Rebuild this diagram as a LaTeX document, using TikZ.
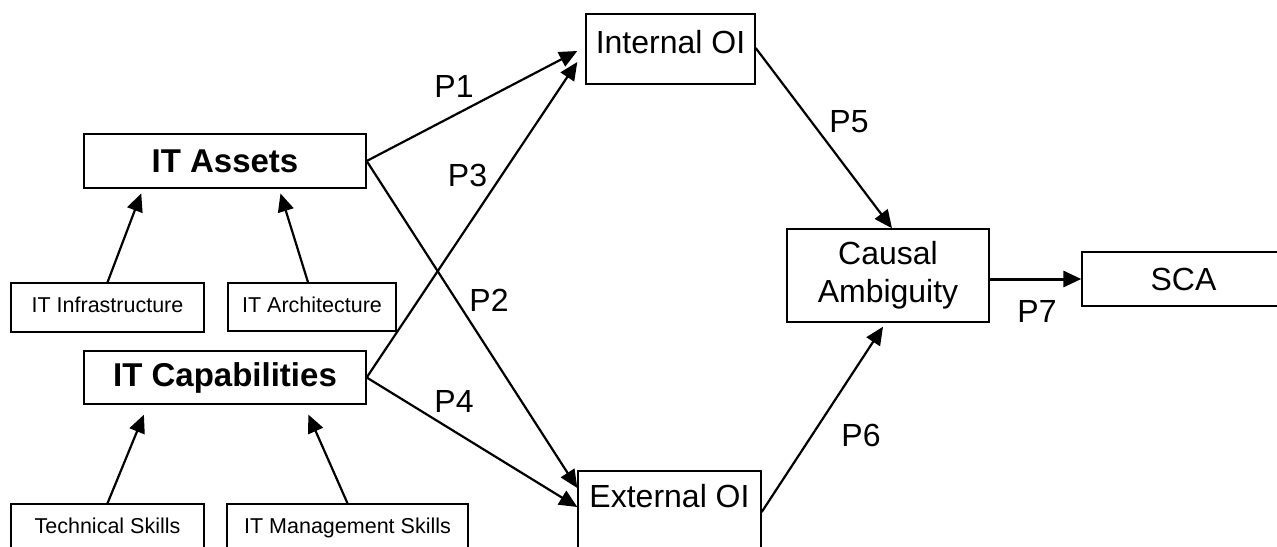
\documentclass[tikz,border=0pt]{standalone}
\usepackage{fontspec}
\setmainfont{Liberation Sans}
\usetikzlibrary{arrows.meta}

\tikzset{
  box/.style={draw, line width=0.7pt, inner sep=0pt, align=center,
    font=\fontsize{16}{19}\selectfont},
  bigbox/.style={box, font=\fontsize{16.5}{20}\selectfont\bfseries},
  smallbox/.style={box, text height=8pt, text depth=3pt,
    font=\fontsize{10.75}{13}\selectfont},
  link/.style={->, line width=1.1pt},
  plabel/.style={font=\fontsize{16}{19}\selectfont}
}

\begin{document}
\begin{tikzpicture}[x=0.5pt, y=-0.5pt, >={Triangle[length=9pt,width=8pt]}]
    \useasboundingbox (0,0) rectangle (1277,546);
    % left side
    \node[bigbox, minimum width=141pt, minimum height=27pt] (assets) at (225,161) {IT Assets};
    \node[smallbox, minimum width=96.5pt, minimum height=24.5pt] (infra) at (107.5,307.5) {IT Infrastructure};
    \node[smallbox, minimum width=84pt, minimum height=24pt] (arch) at (312,307) {IT Architecture};
    \node[bigbox, minimum width=141pt, minimum height=26.5pt] (caps) at (225,377.5) {IT Capabilities};
    \node[smallbox, minimum width=96.5pt, minimum height=24.5pt] (tech) at (107.5,528.5) {Technical Skills};
    \node[smallbox, minimum width=120.5pt, minimum height=24.5pt] (mgmt) at (347.5,528.5) {IT Management Skills};
    % right side
    \node[box, minimum width=84.5pt, text height=19.5pt, text depth=15.5pt] (intoi) at (670.5,49) {Internal OI};
    \node[box, minimum width=91.5pt, text height=18pt, text depth=29.5pt] (extoi) at (669.5,518.5) {External OI};
    \node[box, minimum width=101pt, minimum height=46.5pt] (causal) at (888,275.5) {Causal\\Ambiguity};
    \node[box, minimum width=101.5pt, minimum height=27pt] (sca) at (1183.5,279) {SCA};

    \draw[link, shorten >=2.5pt] (infra.north) -- ([xshift=-41pt]assets.south);
    \draw[link, shorten >=2.5pt] ([xshift=-2pt]arch.north) -- ([xshift=27pt]assets.south);
    \draw[link, shorten >=5.4pt] (tech.north) -- ([xshift=-38.5pt]caps.south);
    \draw[link, shorten >=5.4pt] (mgmt.north) -- ([xshift=39.5pt]caps.south);

    \draw[link] (assets.east) -- ([xshift=-4pt,yshift=-1pt]intoi.west);
    \draw[link] (assets.east) -- ([yshift=15.25pt]extoi.west);
    \draw[link] (caps.east) -- ([xshift=-4pt,yshift=-6.5pt]intoi.west);
    \draw[link] (caps.east) -- ([yshift=5.75pt]extoi.west);
    \draw[link] ([yshift=0.5pt]intoi.east) -- ([xshift=2pt]causal.north);
    \draw[link] ([yshift=3.25pt]extoi.east) -- ([xshift=-2.5pt,yshift=-2pt]causal.south);
    \draw[link, line width=1.5pt] (causal.east |- sca.west) -- (sca.west);

    \node[plabel] (p1) at (454,86.5) {P1};
    \node[plabel] (p2) at (489,300) {P2};
    \node[plabel] (p3) at (467.5,175) {P3};
    \node[plabel] (p4) at (454,401) {P4};
    \node[plabel] (p5) at (849,121.5) {P5};
    \node[plabel] (p6) at (861,435) {P6};
    \node[plabel] (p7) at (1037,311) {P7};
  \end{tikzpicture}
\end{document}
